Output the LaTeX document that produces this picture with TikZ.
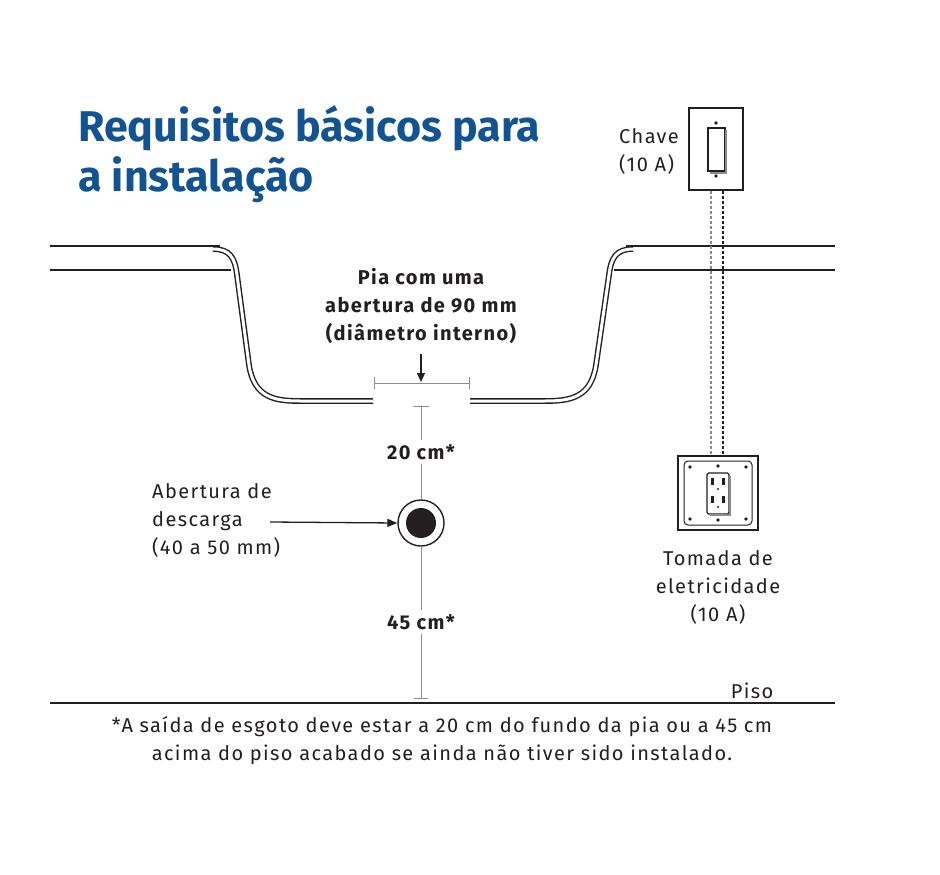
\documentclass[tikz,border=0pt]{standalone}
\usepackage{fontspec}
\setmainfont{Fira Sans}
\newfontfamily\wide[LetterSpace=7]{Fira Sans}
\usetikzlibrary{arrows.meta}
\definecolor{ttl}{RGB}{18,84,146}
\definecolor{dk}{RGB}{35,31,32}
\definecolor{gr}{RGB}{140,140,140}
\tikzset{
 wall/.style={draw=dk,line width=1.4pt,double=white,double distance=3pt,line cap=butt},
 lbl/.style={text=dk,font=\wide\fontsize{20}{28}\selectfont,align=center,inner sep=0},
 blbl/.style={lbl,font=\wide\fontsize{20}{28}\selectfont\bfseries},
 dim/.style={draw=gr,line width=1pt},
 wire/.style={draw=dk,line width=1.2pt,dash pattern=on 3pt off 2pt}
}
\begin{document}
\begin{tikzpicture}[x=1pt,y=-1pt]
\useasboundingbox (0,0) rectangle (940,875);
\node[anchor=west,text=ttl,font=\fontsize{43}{50}\selectfont\bfseries,align=left,inner sep=0] (title) at (78,154) {Requisitos básicos para\\a instalação};
% counter
\draw[dk,line width=1.3pt] (50,246) -- (220,246);
\draw[dk,line width=1.3pt] (50,270) -- (231,270);
\draw[dk,line width=1.3pt] (626,246) -- (835,246);
\draw[dk,line width=1.3pt] (614,270) -- (835,270);
% sink walls
\draw[wall] (213,249) .. controls (230,249) and (235,258) .. (237,275) -- (249,365) .. controls (254,398) and (275,401) .. (300,401) -- (373,401);
\draw[wall] (633,249) .. controls (616,249) and (611,258) .. (609,275) -- (596,365) .. controls (591,398) and (570,401) .. (545,401) -- (470,401);
% opening dimension
\coordinate (oL) at (374,383); \coordinate (oR) at (469,383);
\draw[dim] (oL) -- (oR);
\draw[dim] (374,377) -- (374,389); \draw[dim] (469,377) -- (469,389);
\node[blbl] (pia) at (421,306) {Pia com uma\\abertura de 90 mm\\(diâmetro interno)};
\coordinate (oM) at (421,382);
\draw[dk,line width=1.3pt,-{Triangle[length=9pt,width=8pt]}] (421,354) -- (oM);
% vertical dims
\node[blbl] (d20) at (421,452) {20 cm*};
\node[blbl] (d45) at (421,622) {45 cm*};
\node[circle,draw=dk,line width=1.4pt,minimum size=46pt,inner sep=0] (drain) at (421,523) {};
\fill[dk] (drain.center) circle (15);
\draw[dim] (413,406) -- (429,406);
\draw[dim] (421,406) -- ([yshift=4pt]d20.north);
\draw[dim] ([yshift=-4pt]d20.south) -- (drain.north);
\draw[dim] (drain.south) -- ([yshift=4pt]d45.north);
\coordinate (fl) at (421,698);
\draw[dim] ([yshift=-4pt]d45.south) -- (fl);
\draw[dim] (414,698) -- (428,698);
\node[lbl,align=left,anchor=west] (ab) at (152,520) {Abertura de\\descarga\\(40 a 50 mm)};
\draw[dk,line width=1.3pt,-{Triangle[length=10pt,width=8pt]}] (270,522) -- (drain.west);
% floor
\draw[dk,line width=1.3pt] (50,703) -- (835,703);
\node[lbl,anchor=south] (piso) at (752,699) {Piso};
\node[lbl] (note) at (442,741) {*A saída de esgoto deve estar a 20 cm do fundo da pia ou a 45 cm\\acima do piso acabado se ainda não tiver sido instalado.};
% switch
\node[draw=dk,line width=1.3pt,minimum width=54pt,minimum height=82pt,inner sep=0] (sw) at (716,149) {};
\draw[dk,line width=1.2pt,fill=white] (708,128) rectangle (725,171);
\draw[gr,line width=1.6pt] (726,130) -- (726,173) -- (710,173);
\fill[dk] (716,123) circle (1.8); \fill[dk] (716,176) circle (1.8);
\node[lbl,align=left,anchor=east] (chave) at (679,151) {Chave\\(10 A)};
% outlet
\node[draw=dk,line width=1.4pt,minimum width=80pt,minimum height=74pt,inner sep=0] (out) at (718,493) {};
\draw[dk,line width=1pt,rounded corners=4pt] (684,461) rectangle (752,525);
\foreach \p in {(690,467),(746,467),(690,519),(746,519),(718,466),(718,520)} \fill[dk] \p circle (1.8);
\draw[dk,line width=1.2pt,fill=white,rounded corners=1.5pt] (707,473) rectangle (729,514);
\draw[gr,line width=1.6pt] (730,476) -- (730,515) -- (710,515);
\foreach \yy in {478,496}{\fill[dk] (711,\yy) rectangle (714,\yy+7); \fill[dk] (722,\yy) rectangle (725,\yy+7); \fill[dk] (718,\yy+11) circle (1.2);}
\node[lbl] (tom) at (718,587) {Tomada de\\eletricidade\\(10 A)};
% wires
\coordinate (w1) at (711,0); \coordinate (w2) at (723,0);
\draw[wire,gr] (sw.south -| w1) -- (out.north -| w1);
\draw[wire] (sw.south -| w2) -- (out.north -| w2);
\end{tikzpicture}
\end{document}
